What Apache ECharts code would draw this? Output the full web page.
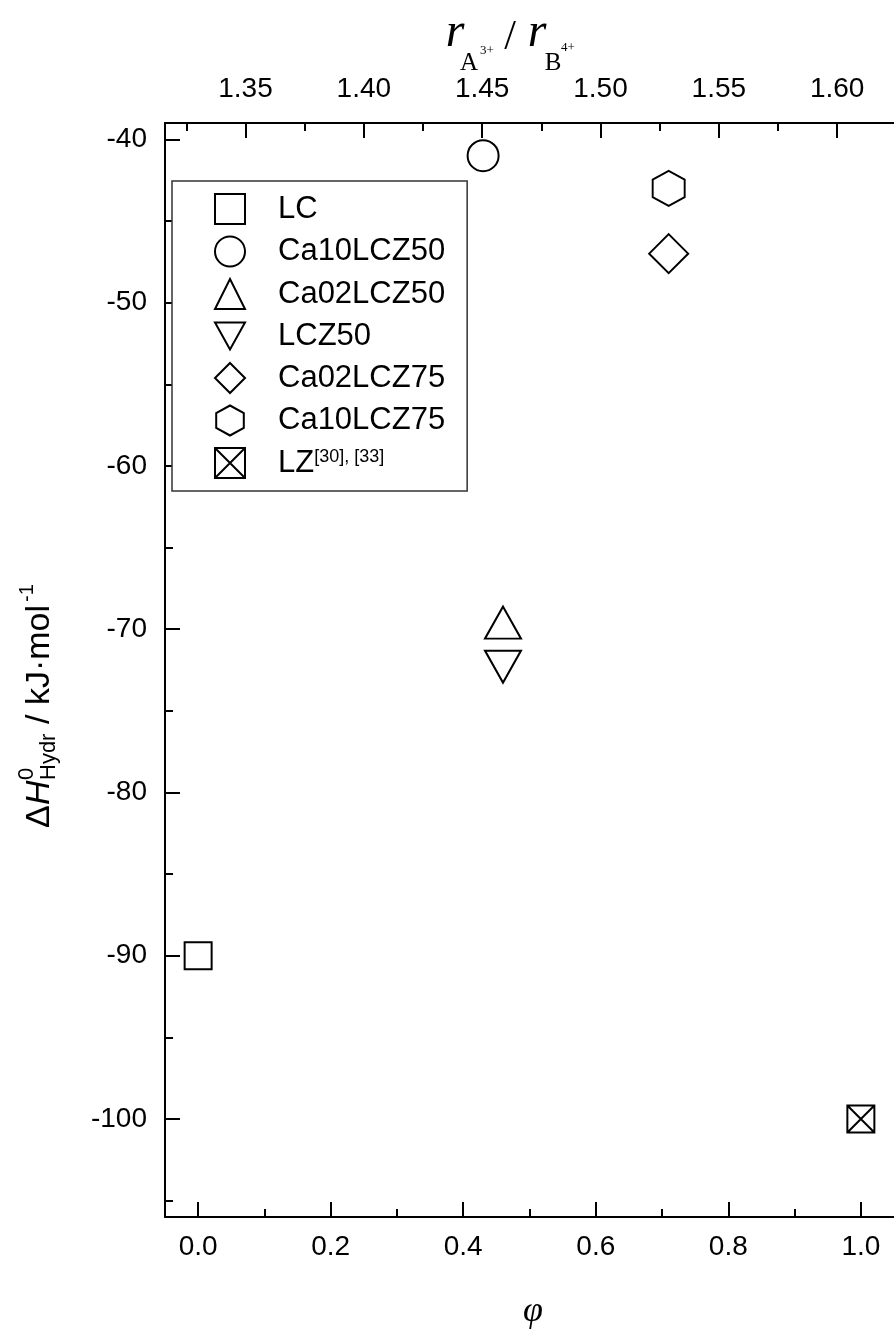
<!DOCTYPE html>
<html>
<head>
<meta charset="utf-8">
<script src="https://cdn.jsdelivr.net/npm/echarts@6/dist/echarts.min.js"></script>
<style>
  html, body { margin: 0; padding: 0; background: #fff; }
  #main { width: 894px; height: 1331px; }
</style>
</head>
<body>
<div id="main"></div>
<script>
// sample names, x = phi, y = hydration enthalpy (kJ/mol)
const seriesNames = ["LC", "Ca10LCZ50", "Ca02LCZ50", "LCZ50", "Ca02LCZ75", "Ca10LCZ75", "LZ"];
const phiValues = [0.0, 0.43, 0.46, 0.46, 0.71, 0.71, 1.0];
const dHValues = [-90, -41, -69.6, -72.3, -47, -43, -100];

// tick labels
const phiTicks = [0.0, 0.2, 0.4, 0.6, 0.8, 1.0];
const phiMinor = [0.1, 0.3, 0.5, 0.7, 0.9];
const ratioTicks = [1.35, 1.40, 1.45, 1.50, 1.55, 1.60];
const ratioMinor = [1.325, 1.375, 1.425, 1.475, 1.525, 1.575];
const dHTicks = [-40, -50, -60, -70, -80, -90, -100];
const dHMinor = [-45, -55, -65, -75, -85, -95, -105];

const symbols = [
  "rect",
  "circle",
  "triangle",
  "path://M0,0L20,0L10,18Z",
  "diamond",
  "path://M46,0L92,25L92,75L46,100L0,75L0,25Z",
  "path://M0,0H10V10H0ZM0,0L10,10M10,0L0,10"
];
const symbolSizes = [27, 31, [36, 32], [36, 32], 39, [32, 35], 27];

const sans = "'Liberation Sans', Arial, sans-serif";
const serif = "'Liberation Serif', 'Times New Roman', serif";

const myChart = echarts.init(document.getElementById("main"));

function tickAxis(pos, min, max, values, len, withLabel, fmt) {
  return {
    type: "value",
    position: pos,
    min: min,
    max: max,
    splitLine: { show: false },
    axisLine: { show: withLabel, onZero: false, lineStyle: { color: "#000", width: 2 } },
    axisTick: { show: true, inside: true, length: len, customValues: values,
      lineStyle: { color: "#000", width: 2 } },
    axisLabel: withLabel
      ? { show: true, customValues: values, formatter: fmt, color: "#000",
          fontSize: 28, fontFamily: sans, margin: pos === "top" ? 20 : (pos === "bottom" ? 16 : 18) }
      : { show: false }
  };
}

// small helper for pieces of the rotated y title (local coords: x along text, y across)
function t(text, x, y, size, italic) {
  return {
    type: "text",
    x: x,
    y: y,
    style: {
      text: text,
      font: (italic ? "italic " : "") + size + "px " + sans,
      fill: "#000",
      align: "left",
      verticalAlign: "middle"
    }
  };
}

const option = {
  animation: false,
  grid: { left: 165, top: 123, right: -2, bottom: 114, containLabel: false },
  xAxis: [
    tickAxis("bottom", -0.05, 1.05, phiTicks, 15, true, (v) => v.toFixed(1)),
    tickAxis("bottom", -0.05, 1.05, phiMinor, 8, false),
    tickAxis("top", 1.316, 1.624, ratioTicks, 15, true, (v) => v.toFixed(2)),
    tickAxis("top", 1.316, 1.624, ratioMinor, 8, false)
  ],
  yAxis: [
    tickAxis("left", -106, -39, dHTicks, 15, true, (v) => String(v)),
    tickAxis("left", -106, -39, dHMinor, 8, false)
  ],
  legend: {
    orient: "vertical",
    left: 172,
    top: 181,
    padding: [12, 22, 12, 42],
    itemGap: 10.5,
    itemWidth: 30,
    itemHeight: 30,
    borderColor: "#333",
    borderWidth: 1.5,
    borderRadius: 0,
    backgroundColor: "#fff",
    selectedMode: false,
    textStyle: {
      color: "#000",
      fontSize: 31,
      fontFamily: sans,
      lineHeight: 30,
      padding: [0, 0, 0, 28],
      rich: {
        b: { fontSize: 31, fontFamily: sans, color: "#000", lineHeight: 30 },
        s: { fontSize: 18, fontFamily: sans, color: "#000", verticalAlign: "top", lineHeight: 18 }
      }
    },
    formatter: (name) => (name === "LZ" ? "{b|LZ}{s|[30], [33]}" : name),
    data: seriesNames
  },
  graphic: [
    // y axis title, rotated group
    {
      type: "group",
      x: 40,
      y: 706,
      rotation: Math.PI / 2,
      children: [
        t("Δ", -122, 0, 34, false),
        t("H", -99, 0, 34, true),
        t("0", -74, -13, 22, false),
        t("Hydr", -74, 9, 22, false),
        t("/ kJ·mol", -18, 0, 34, false),
        t("-1", 104, -13, 20, false)
      ]
    },
    // top axis title r_A3+ / r_B4+
    { type: "text", x: 455, y: 33, style: { text: "r", font: "italic 48px " + serif, fill: "#000", align: "center", verticalAlign: "middle" } },
    { type: "text", x: 469, y: 63, style: { text: "A", font: "25px " + serif, fill: "#000", align: "center", verticalAlign: "middle" } },
    { type: "text", x: 487, y: 51, style: { text: "3+", font: "13px " + serif, fill: "#000", align: "center", verticalAlign: "middle" } },
    { type: "text", x: 510, y: 38, style: { text: "/", font: "42px " + serif, fill: "#000", align: "center", verticalAlign: "middle" } },
    { type: "text", x: 537, y: 33, style: { text: "r", font: "italic 48px " + serif, fill: "#000", align: "center", verticalAlign: "middle" } },
    { type: "text", x: 553, y: 63, style: { text: "B", font: "25px " + serif, fill: "#000", align: "center", verticalAlign: "middle" } },
    { type: "text", x: 568, y: 48, style: { text: "4+", font: "13px " + serif, fill: "#000", align: "center", verticalAlign: "middle" } },
    // bottom axis title phi
    { type: "text", x: 533, y: 1312, style: { text: "φ", font: "italic 36px " + serif, fill: "#000", align: "center", verticalAlign: "middle" } }
  ],
  series: seriesNames.map((name, i) => ({
    name: name,
    type: "scatter",
    xAxisIndex: 0,
    yAxisIndex: 0,
    symbol: symbols[i],
    symbolSize: symbolSizes[i],
    itemStyle: { color: "#fff", borderColor: "#000", borderWidth: 2, opacity: 1 },
    emphasis: { disabled: true },
    data: [[phiValues[i], dHValues[i]]]
  }))
};

myChart.setOption(option);
</script>
</body>
</html>
